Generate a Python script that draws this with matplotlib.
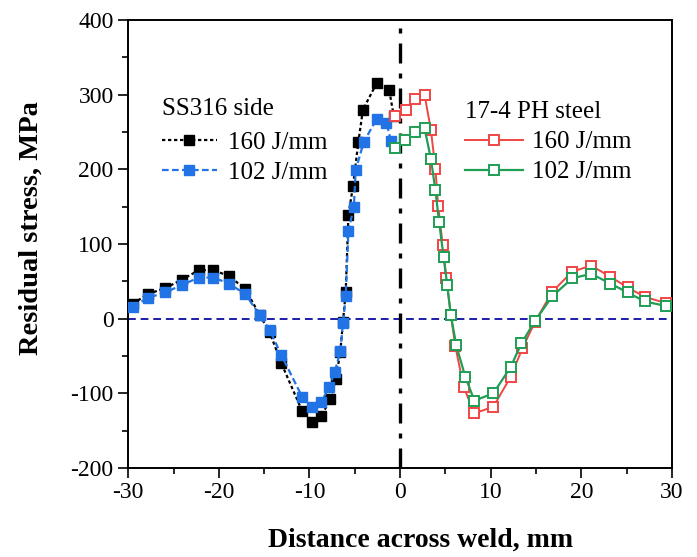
import matplotlib.pyplot as plt
from matplotlib.ticker import MultipleLocator

plt.rcParams['font.family'] = ['Liberation Serif', 'DejaVu Serif']
plt.rcParams['axes.unicode_minus'] = False

# SS316 side (x < 0)
ss_160_x = [-29.5, -27.8, -25.9, -24.1, -22.2, -20.6, -18.9, -17.1, -15.5, -14.4, -13.1,
            -10.8, -9.7, -8.7, -7.7, -7.1, -6.6, -6.3, -6.0, -5.7, -5.2, -4.6, -4.1,
            -2.6, -1.2, -0.7]
ss_160_y = [20, 33, 41, 52, 65, 65, 57, 40, 5, -18, -60,
            -124, -138, -131, -108, -81, -45, -4, 36, 139, 177, 237, 280,
            315, 306, 272]

ss_102_x = [-29.5, -27.8, -25.9, -24.1, -22.2, -20.6, -18.9, -17.1, -15.5, -14.4, -13.1,
            -10.8, -9.7, -8.7, -7.8, -7.2, -6.6, -6.3, -6.0, -5.7, -5.1, -4.9, -4.0,
            -2.6, -1.5, -1.0]
ss_102_y = [16, 28, 35, 45, 55, 55, 47, 33, 5, -15, -49,
            -105, -119, -112, -91, -71, -44, -6, 30, 117, 150, 199, 237,
            267, 262, 238]

# 17-4 PH steel side (x > 0)
ph_160_x = [-0.55, 0.6, 1.65, 2.7, 3.4, 3.9, 4.2, 4.7, 5.1, 5.6, 6.1, 7.0, 8.2, 10.3,
            12.2, 13.5, 14.9, 16.8, 19.0, 21.1, 23.2, 25.1, 27.0, 29.3]
ph_160_y = [271, 280, 294, 300, 253, 201, 151, 99, 54, 5, -37, -91, -127, -118,
            -78, -40, -4, 36, 63, 71, 56, 42, 29, 21]

ph_102_x = [-0.6, 0.5, 1.65, 2.7, 3.4, 3.9, 4.3, 4.8, 5.2, 5.6, 6.2, 7.2, 8.2, 10.3,
            12.2, 13.4, 14.9, 16.8, 19.0, 21.1, 23.2, 25.1, 27.0, 29.3]
ph_102_y = [228, 239, 250, 255, 214, 172, 130, 83, 45, 5, -36, -78, -110, -100,
            -65, -33, -3, 30, 54, 60, 47, 35, 23, 17]

fig = plt.figure(figsize=(6.97, 5.57), dpi=100)
ax = fig.add_axes([0.184, 0.160, 0.780, 0.804])

# reference lines
ax.axhline(0, color='#1c1ca8', linestyle=(0, (4, 2.5)), linewidth=1.4, zorder=1)
ax.axvline(0, color='black', linestyle=(0, (6, 3, 1.5, 3)), linewidth=2.4, zorder=1)

l1, = ax.plot(ss_160_x, ss_160_y, color='black', linestyle=(0, (1.5, 1.2)), linewidth=1.6,
              marker='s', markersize=7, markerfacecolor='black', markeredgecolor='black',
              label='160 J/mm', zorder=3)
l2, = ax.plot(ss_102_x, ss_102_y, color='#2273e6', linestyle=(0, (3, 1.5)), linewidth=1.6,
              marker='s', markersize=7, markerfacecolor='#2273e6', markeredgecolor='#2273e6',
              label='102 J/mm', zorder=4)
l3, = ax.plot(ph_160_x, ph_160_y, color='#f04545', linewidth=1.4,
              marker='s', markersize=7, markerfacecolor='white', markeredgecolor='#f04545',
              markeredgewidth=1.4, label='160 J/mm', zorder=5)
l4, = ax.plot(ph_102_x, ph_102_y, color='#1f9e55', linewidth=1.6,
              marker='s', markersize=7, markerfacecolor='white', markeredgecolor='#1f9e55',
              markeredgewidth=1.4, label='102 J/mm', zorder=6)

ax.set_xlim(-30, 30)
ax.set_ylim(-200, 400)
ax.xaxis.set_major_locator(MultipleLocator(10))
ax.xaxis.set_minor_locator(MultipleLocator(5))
ax.yaxis.set_major_locator(MultipleLocator(100))
ax.yaxis.set_minor_locator(MultipleLocator(50))
ax.tick_params(which='both', direction='out', top=False, right=False, labelsize=17)
ax.tick_params(which='major', length=7, width=1.2)
ax.tick_params(which='minor', length=4, width=1.2)
for s in ax.spines.values():
    s.set_linewidth(1.4)

ax.set_xlabel('Distance across weld, mm', fontsize=20, fontweight='bold')
ax.set_ylabel('Residual stress, MPa', fontsize=20.5, fontweight='bold')
ax.xaxis.set_label_coords(0.537, -0.134)
ax.yaxis.set_label_coords(-0.155, 0.535)

leg1 = ax.legend(handles=[l1, l2], title='SS316 side', loc='upper left',
                 bbox_to_anchor=(0.062, 0.825), frameon=False, fontsize=18,
                 title_fontsize=18, handlelength=2.2, handletextpad=0.45,
                 labelspacing=0.3, alignment='left', borderaxespad=0,
                 borderpad=0)
leg1._legend_box.sep = 8
ax.add_artist(leg1)
leg2 = ax.legend(handles=[l3, l4], title='17-4 PH steel', loc='upper left',
                 bbox_to_anchor=(0.62, 0.82), frameon=False, fontsize=18,
                 title_fontsize=18, handlelength=2.3, handletextpad=0.35,
                 labelspacing=0.3, alignment='left', borderaxespad=0,
                 borderpad=0)
leg2._legend_box.sep = 6

fig.savefig('out.png', dpi=100)
